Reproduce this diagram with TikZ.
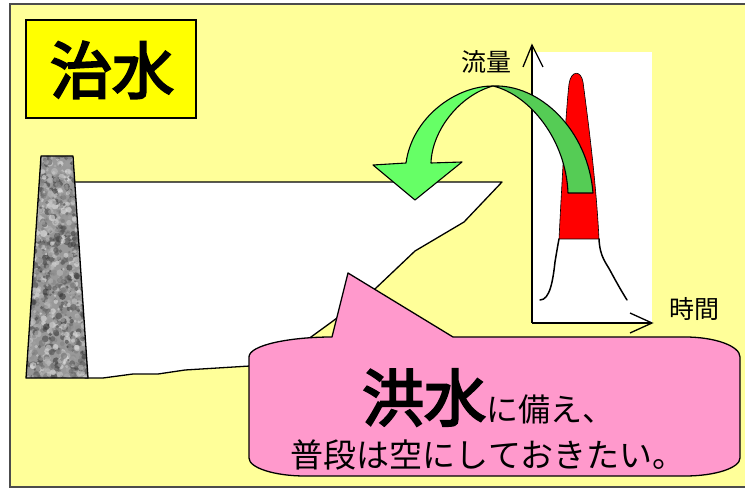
\documentclass[tikz,border=0pt]{standalone}
\usepackage{fontspec}
\newfontfamily\jp{Noto Sans CJK JP}
\newfontfamily\jpheavy[FakeBold=3.5]{Noto Sans CJK JP}
\definecolor{paper}{HTML}{FFFF99}
\definecolor{titlefill}{HTML}{FFFF00}
\definecolor{bubble}{HTML}{FF99CC}
\definecolor{lightgreen}{HTML}{66FF66}
\definecolor{darkgreen}{HTML}{55CC55}
\definecolor{peak}{HTML}{FF0000}
\begin{document}
\begin{tikzpicture}[x=1pt,y=-1pt,
  outline/.style={draw=black,line width=1.3pt,line join=round},
  axis/.style={draw=black,line width=1.3pt},
  curve/.style={draw=black,line width=1.5pt,line cap=round},
  label/.style={font=\jp\fontsize{25}{25}\selectfont,inner sep=0pt}]
\useasboundingbox (0,0) rectangle (745,489);
% page
\fill[white] (0,0) rectangle (745,489);
\draw[fill=paper,draw=black!70,line width=1.3pt] (10,4) rectangle (752,487);

% reservoir
\draw[outline,fill=white] (70,182) -- (502,182) -- (464,222) -- (415,251)
  -- (376,288) -- (333,321) -- (300,345) -- (250,366) -- (185,370)
  -- (158,374) -- (133,374) -- (103,378) -- (85,378) -- cycle;

% dam body with granite texture
\begin{scope}
  \clip (41,156) -- (73,156) -- (88,378) -- (26,378) -- cycle;
  \fill[black!40] (20,150) rectangle (95,385);
  \pgfmathsetseed{11}
  \foreach \i in {1,...,1400}{
    \pgfmathsetmacro\px{24+68*rnd}
    \pgfmathsetmacro\py{152+230*rnd}
    \pgfmathsetmacro\g{10+70*rnd}
    \pgfmathsetmacro\r{1.2+2.4*rnd}
    \fill[black!\g,opacity=0.6] (\px,\py) circle[radius=\r];
  }
\end{scope}
\draw[outline] (41,156) -- (73,156) -- (88,378) -- (26,378) -- cycle;

% hydrograph
\fill[white] (532,52) rectangle (652,323);
\coordinate (origin) at (532,323);
\coordinate (ytip) at (532,45);
\coordinate (xtip) at (652,323);
\filldraw[fill=peak,draw=black,line width=0.6pt]
  (559,239) .. controls (562,180) and (566,110) .. (569,84)
  .. controls (571,70) and (581,70) .. (583,82)
  .. controls (588,120) and (596,180) .. (599,239) -- cycle;
\draw[curve] (540,300) .. controls (550,300) and (553,280) .. (555,262)
  .. controls (557,250) and (558,244) .. (559,239);
\draw[curve] (599,239) .. controls (600,258) and (606,262) .. (612,274)
  .. controls (618,285) and (622,292) .. (627,300);
\draw[axis] (origin) -- (ytip);
\draw[axis] (origin) -- (xtip);
\draw[axis] (523,67) -- (ytip) -- (543,67);
\draw[axis] (630,313) -- (xtip) -- (630,333);
\node[label] (qlabel) at (486,62) {流量};
\node[label] (tlabel) at (694,309) {時間};

% twisted arrow: front half with head, back half to the tail
\draw[outline,fill=lightgreen,line width=1.1pt] (406,163)
  .. controls (412,118) and (455,86) .. (493,86)
  .. controls (460,95) and (432,130) .. (431,163)
  -- (462,162) -- (415,200) -- (373,165) -- cycle;
\draw[outline,fill=darkgreen,line width=1.1pt] (493,86)
  .. controls (540,84) and (588,130) .. (593,193)
  -- (568,193)
  .. controls (566,140) and (530,95) .. (493,86) -- cycle;

% speech bubble
\draw[outline,fill=bubble] (249,357)
  .. controls (249,345) and (290,337) .. (332,337)
  -- (348,273) -- (453,337) -- (685,337)
  .. controls (715,337) and (740,346) .. (740,357)
  -- (740,458)
  .. controls (740,468) and (715,476) .. (685,476)
  -- (305,476)
  .. controls (275,476) and (249,468) .. (249,458) -- cycle;
\node[inner sep=0pt,anchor=base] (line1) at (488,421)
  {\jpheavy\fontsize{62}{62}\selectfont 洪水\jp\fontsize{32}{32}\selectfont に備え、};
\node[inner sep=0pt,anchor=base] (line2) at (488,467)
  {\jp\fontsize{33}{33}\selectfont 普段は空にしておきたい。};

% title
\draw[fill=titlefill,draw=black,line width=1.3pt] (26,20) rectangle (196,118);
\node[inner sep=0pt] (title) at (112,70) {\jpheavy\fontsize{62}{62}\selectfont 治水};
\end{tikzpicture}
\end{document}
